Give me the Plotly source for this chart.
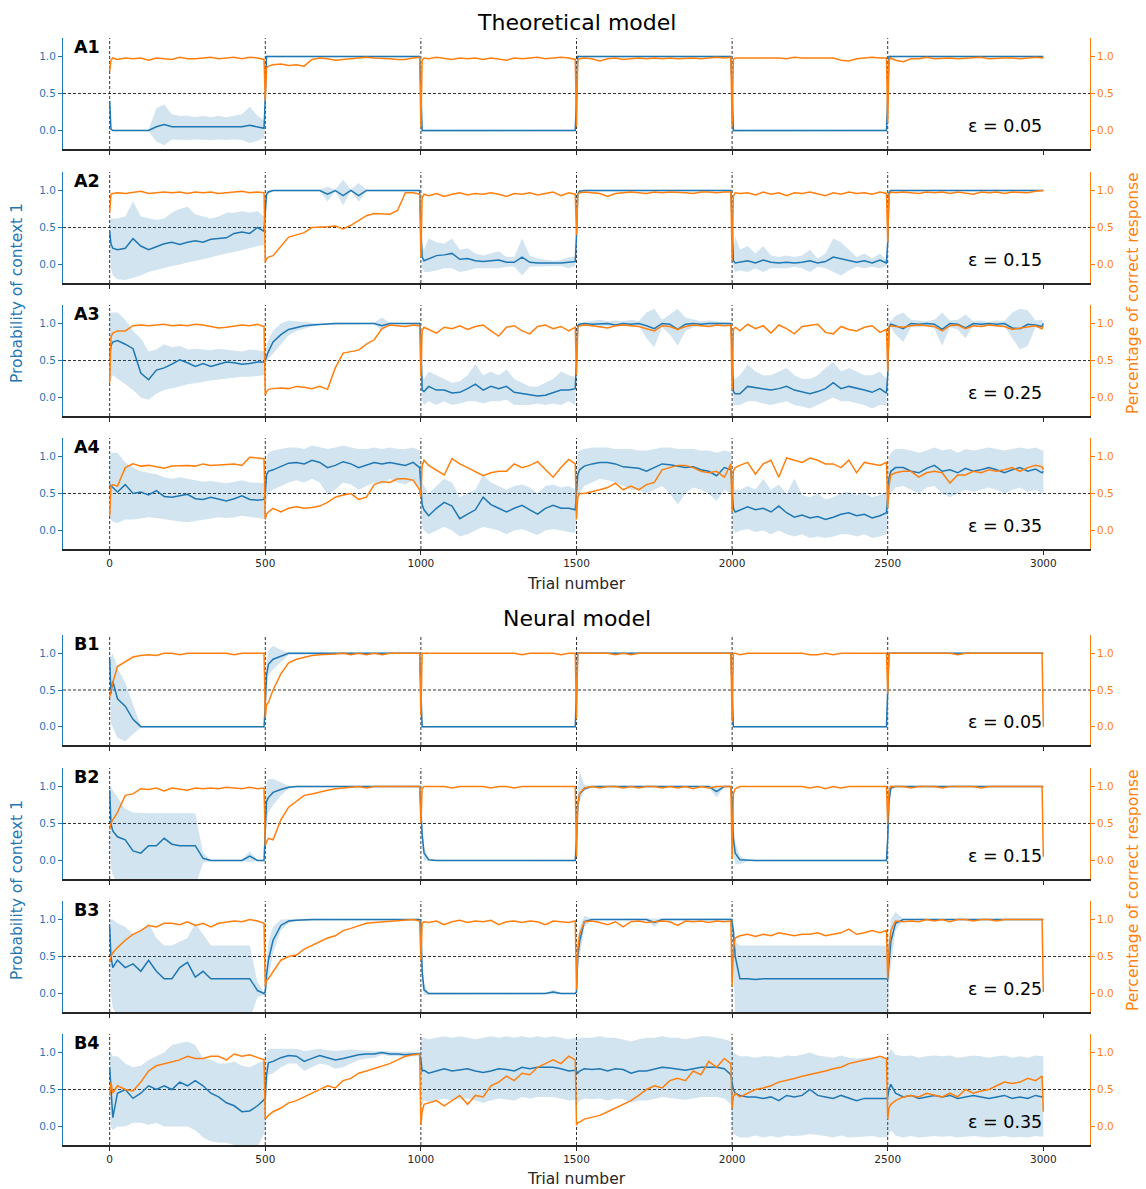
import plotly.graph_objects as go

# ---------------- grid of trial numbers ----------------
BLOCK_STARTS = [0, 500, 1000, 1500, 2000, 2500]
OFFSETS = [0, 4, 10, 25, 50, 75, 100, 125, 150, 175, 200, 225, 250, 275,
           300, 325, 350, 375, 400, 425, 450, 475, 496]
TRIALS = [s + o for s in BLOCK_STARTS for o in OFFSETS] + [3000]
SWITCHES = [0, 500, 1000, 1500, 2000, 2500]
XTICKS = [0, 500, 1000, 1500, 2000, 2500, 3000]
YTICKS = [0.0, 0.5, 1.0]
YTICK_LABELS = ["0.0", "0.5", "1.0"]
PANEL_NAMES = ["A1", "A2", "A3", "A4", "B1", "B2", "B3", "B4"]
EPSILONS = ["0.05", "0.15", "0.25", "0.35", "0.05", "0.15", "0.25", "0.35"]

# ---------------- Theoretical model ----------------
A1_P = [
 .40,.02,0,0,0,0,0,0,.05,.08,.05,.05,.05,.05,.05,.05,.05,.05,.05,.05,.07,.05,.03,
 .45,1,1,1,1,1,1,1,1,1,1,1,1,1,1,1,1,1,1,1,1,1,1,
 .55,0,0,0,0,0,0,0,0,0,0,0,0,0,0,0,0,0,0,0,0,0,0,
 .45,1,1,1,1,1,1,1,1,1,1,1,1,1,1,1,1,1,1,1,1,1,1,
 .55,0,0,0,0,0,0,0,0,0,0,0,0,0,0,0,0,0,0,0,0,0,0,
 .45,1,1,1,1,1,1,1,1,1,1,1,1,1,1,1,1,1,1,1,1,1,1,
 1]
A1_LO = [
 .39,0,-.01,-.01,-.01,-.01,-.01,-.01,-.15,-.2,-.12,-.12,-.13,-.12,-.12,-.13,-.12,-.13,-.12,-.13,-.17,-.14,-.1,
 .4,.97,.99,.99,.99,.99,.99,.99,.99,.99,.99,.99,.99,.99,.99,.99,.99,.99,.99,.99,.99,.99,.99,
 .5,-.02,-.01,-.01,-.01,-.01,-.01,-.01,-.01,-.01,-.01,-.01,-.01,-.01,-.01,-.01,-.01,-.01,-.01,-.01,-.01,-.01,-.01,
 .4,.97,.99,.99,.99,.99,.99,.99,.99,.99,.99,.99,.99,.99,.99,.99,.99,.99,.99,.99,.99,.99,.99,
 .5,-.02,-.01,-.01,-.01,-.01,-.01,-.01,-.01,-.01,-.01,-.01,-.01,-.01,-.01,-.01,-.01,-.01,-.01,-.01,-.01,-.01,-.01,
 .4,.97,.99,.99,.99,.99,.99,.99,.99,.99,.99,.99,.99,.99,.99,.99,.99,.99,.99,.99,.99,.99,.99,
 .99]
A1_HI = [
 .41,.04,.01,.01,.01,.01,.01,.01,.3,.35,.22,.2,.2,.18,.2,.18,.2,.18,.2,.22,.32,.2,.14,
 .5,1.02,1.01,1.01,1.01,1.01,1.01,1.01,1.01,1.01,1.01,1.01,1.01,1.01,1.01,1.01,1.01,1.01,1.01,1.01,1.01,1.01,1.01,
 .7,.03,.01,.01,.01,.01,.01,.01,.01,.01,.01,.01,.01,.01,.01,.01,.01,.01,.01,.01,.01,.01,.01,
 .5,1.02,1.01,1.01,1.01,1.01,1.01,1.01,1.01,1.01,1.01,1.01,1.01,1.01,1.01,1.01,1.01,1.01,1.01,1.01,1.01,1.01,1.01,
 .7,.03,.01,.01,.01,.01,.01,.01,.01,.01,.01,.01,.01,.01,.01,.01,.01,.01,.01,.01,.01,.01,.01,
 .5,1.02,1.01,1.01,1.01,1.01,1.01,1.01,1.01,1.01,1.01,1.01,1.01,1.01,1.01,1.01,1.01,1.01,1.01,1.01,1.01,1.01,1.01,
 1.01]
A1_C = [
 .8,.95,.98,.96,.98,.97,.98,.95,.98,.97,.96,.99,.97,.97,.98,.99,.97,.98,.99,.97,.99,.98,.96,
 .4,.85,.87,.89,.9,.88,.89,.87,.96,.98,.97,.95,.96,.97,.98,.99,.98,.98,.97,.96,.96,.98,.99,
 .05,.95,.98,.97,.99,.97,.96,.98,.97,.98,.96,.98,.97,.95,.98,.97,.98,.99,.97,.98,.99,.98,.96,
 .05,.95,.97,.98,.97,.94,.97,.98,.96,.97,.98,.97,.98,.97,.98,.97,.98,.98,.97,.98,.99,.98,.99,
 .05,.96,.98,.98,.99,.98,.99,.98,.98,.97,.99,.98,.98,.99,.98,.98,.95,.94,.97,.98,.99,.98,.98,
 .1,.95,.98,.95,.93,.97,.97,.99,.97,.98,.98,.97,.98,.98,.99,.97,.98,.98,.98,.97,.98,.99,.98,
 .99]

A2_P = [
 .45,.28,.22,.2,.22,.35,.25,.2,.24,.28,.3,.27,.3,.32,.3,.34,.35,.36,.42,.44,.42,.5,.45,
 .7,.95,.98,1,1,1,1,1,1,1,.95,1,.93,1,.93,1,1,1,1,1,1,1,1,
 .5,.1,.05,.08,.12,.13,.15,.07,.08,.05,.04,.05,.06,.03,.03,.1,.03,.02,.02,.01,.02,.03,.04,
 .4,.95,.99,1,1,1,1,1,1,1,1,1,1,1,1,1,1,1,1,1,1,1,1,
 .6,.05,.02,.03,.05,.02,.06,.03,.02,.03,.02,.03,.05,.02,.04,.1,.08,.06,.03,.05,.02,.06,.02,
 .3,.97,1,1,1,1,1,1,1,1,1,1,1,1,1,1,1,1,1,1,1,1,1,
 1]
A2_LO = [
 .3,-.05,-.15,-.2,-.21,-.18,-.15,-.1,-.08,-.05,-.02,0,.02,.05,.07,.1,.12,.15,.17,.2,.22,.25,.26,
 .6,.9,.96,.99,.99,.99,.99,.99,.99,.99,.85,.99,.8,.99,.85,.99,.99,.99,.99,.99,.99,.99,.99,
 .4,-.05,-.1,-.1,-.08,-.05,-.05,-.1,-.08,-.05,-.05,-.05,-.05,-.03,-.03,-.15,-.03,-.02,-.02,-.02,-.02,-.05,-.02,
 .3,.9,.99,.99,.99,.99,.99,.99,.99,.99,.99,.99,.99,.99,.99,.99,.99,.99,.99,.99,.99,.99,.99,
 .5,-.05,-.1,-.08,-.1,-.05,-.1,-.05,-.05,-.05,-.03,-.05,-.1,-.03,-.05,-.1,-.15,-.08,-.03,-.05,-.03,-.05,-.02,
 .2,.93,.99,.99,.99,.99,.99,.99,.99,.99,.99,.99,.99,.99,.99,.99,.99,.99,.99,.99,.99,.99,.99,
 .99]
A2_HI = [
 .6,.62,.62,.62,.65,.85,.65,.62,.6,.62,.7,.75,.78,.68,.65,.62,.65,.7,.7,.72,.7,.72,.65,
 .8,1,1.01,1.01,1.01,1.01,1.01,1.01,1.01,1.01,1.05,1.01,1.15,1.01,1.1,1.01,1.01,1.01,1.01,1.01,1.01,1.01,1.01,
 .6,.25,.2,.35,.3,.28,.35,.2,.22,.15,.12,.15,.18,.1,.1,.35,.12,.08,.06,.05,.06,.1,.1,
 .5,1,1.01,1.01,1.01,1.01,1.01,1.01,1.01,1.01,1.01,1.01,1.01,1.01,1.01,1.01,1.01,1.01,1.01,1.01,1.01,1.01,1.01,
 .7,.2,.38,.2,.25,.15,.25,.12,.1,.12,.1,.12,.2,.08,.15,.35,.3,.2,.1,.15,.08,.15,.06,
 .4,1.01,1.01,1.01,1.01,1.01,1.01,1.01,1.01,1.01,1.01,1.01,1.01,1.01,1.01,1.01,1.01,1.01,1.01,1.01,1.01,1.01,1.01,
 1.01]
A2_C = [
 .7,.95,.96,.97,.96,.97,.99,.96,.97,.98,.97,.98,.96,.98,.97,.98,.96,.97,.98,.99,.97,.98,.97,
 .03,.08,.1,.12,.25,.37,.4,.43,.5,.5,.51,.52,.48,.53,.6,.66,.69,.69,.68,.73,.97,.97,.95,
 .1,.9,.95,.93,.96,.92,.95,.97,.94,.96,.95,.97,.95,.92,.96,.95,.97,.94,.96,.98,.93,.97,.95,
 .4,.95,.97,.98,.97,.96,.92,.96,.97,.98,.97,.96,.98,.97,.98,.98,.97,.96,.98,.98,.97,.98,.98,
 .05,.92,.97,.96,.97,.94,.98,.95,.97,.93,.97,.96,.98,.95,.93,.97,.95,.98,.96,.97,.95,.98,.96,
 .3,.95,.98,.97,.98,.97,.96,.98,.97,.98,.96,.98,.97,.95,.98,.97,.98,.96,.98,.98,.97,.99,.99,
 1]

A3_P = [
 .55,.7,.75,.77,.72,.66,.33,.24,.37,.4,.45,.51,.47,.42,.46,.42,.45,.48,.47,.45,.46,.48,.48,
 .5,.55,.62,.75,.85,.92,.95,.97,.98,.99,1,1,1,1,1,1,1,.97,1,1,1,1,1,
 .8,.1,.08,.15,.1,.1,.06,.07,.12,.18,.1,.15,.12,.15,.07,.05,.03,.02,.03,.07,.1,.1,.12,
 .5,.97,.99,1,.99,.99,1,.98,1,.99,1,.97,.93,1,.99,.92,.99,1,.99,1,1,1,1,
 .7,.08,.05,.05,.15,.13,.12,.1,.12,.15,.1,.08,.05,.08,.12,.2,.12,.15,.13,.1,.07,.12,.06,
 .3,.95,.99,.97,.93,1,.99,1,.99,.92,1,.99,.94,1,.99,1,.99,1,.94,.93,.99,.98,.96,
 1]
A3_LO = [
 .2,.25,.3,.25,.18,.1,0,-.03,.05,.1,.13,.15,.18,.2,.21,.23,.24,.25,.27,.28,.28,.29,.3,
 .45,.48,.52,.6,.72,.84,.9,.93,.96,.98,.99,.99,.99,.99,.99,.99,.99,.9,.99,.99,.99,.99,.99,
 .6,-.05,-.1,-.05,-.1,-.05,-.1,-.08,-.05,-.05,-.08,-.05,-.05,-.03,-.1,-.1,-.1,-.08,-.1,-.08,-.1,-.05,-.1,
 .4,.9,.97,.98,.96,.95,.97,.95,.97,.96,.97,.8,.68,.95,.85,.7,.9,.95,.97,.95,.97,.97,.98,
 .5,-.1,-.1,-.1,-.05,-.05,-.08,-.1,-.08,-.05,-.1,-.12,-.15,-.1,-.05,0,-.05,-.05,-.08,-.1,-.15,-.1,-.1,
 .2,.85,.95,.85,.75,.95,.95,.97,.93,.7,.95,.92,.8,.97,.95,.97,.95,.97,.8,.65,.7,.95,.92,
 .98]
A3_HI = [
 1.1,1.15,1.15,1.15,1.05,.9,.8,.62,.65,.72,.68,.7,.65,.66,.65,.64,.66,.65,.64,.62,.65,.64,.62,
 .6,.7,.78,.9,1,1.04,1.03,1.02,1.01,1,1.01,1.01,1.01,1.01,1.01,1.01,1.01,1.08,1.01,1.01,1.01,1.01,1.01,
 .9,.3,.25,.35,.3,.25,.2,.22,.3,.45,.3,.35,.3,.38,.25,.2,.15,.15,.2,.25,.35,.3,.28,
 .6,1.02,1.01,1.02,1.03,1.05,1.03,1.04,1.03,1.05,1.03,1.15,1.2,1.05,1.12,1.2,1.08,1.05,1.03,1.04,1.03,1.02,1.01,
 .8,.3,.25,.3,.45,.35,.3,.3,.35,.4,.3,.25,.25,.3,.4,.48,.35,.4,.35,.3,.3,.35,.25,
 .5,1.05,1.03,1.1,1.15,1.05,1.04,1.03,1.05,1.15,1.04,1.05,1.12,1.03,1.04,1.02,1.04,1.03,1.15,1.2,1.18,1.04,1.05,
 1.01]
A3_C = [
 .2,.82,.87,.9,.9,.97,.98,.97,.98,.99,.97,.98,.97,.99,.98,.96,.94,.95,.96,.98,.97,.99,.96,
 .03,.08,.11,.12,.13,.12,.15,.14,.12,.15,.11,.4,.6,.62,.64,.72,.78,.93,.98,.97,.96,.98,.97,
 .28,.9,.95,.92,.87,.95,.93,.97,.92,.96,.98,.9,.83,.95,.97,.9,.86,.96,.98,.93,.96,.9,.95,
 .3,.95,.97,.98,.97,.96,.94,.97,.98,.97,.96,.93,.9,.97,.96,.92,.96,.98,.97,.96,.98,.97,.98,
 .1,.92,.95,.9,.99,.93,.97,.87,.98,.93,.86,.96,.98,.99,.88,.86,.96,.92,.9,.95,.97,.88,.92,
 .35,.95,.97,.96,.95,.97,.98,.97,.96,.9,.97,.98,.93,.97,.96,.98,.97,.96,.92,.94,.95,.97,.93,
 .97]

A4_P = [
 .62,.6,.58,.52,.62,.5,.52,.48,.54,.46,.45,.47,.49,.43,.42,.45,.42,.4,.43,.47,.42,.41,.42,
 .5,.75,.8,.82,.86,.91,.92,.9,.95,.92,.85,.88,.93,.9,.85,.88,.92,.9,.92,.9,.88,.92,.85,
 .6,.35,.28,.2,.3,.38,.33,.16,.22,.28,.45,.35,.3,.25,.3,.34,.28,.22,.3,.34,.3,.3,.28,
 .5,.75,.82,.87,.9,.92,.92,.9,.86,.85,.84,.8,.85,.9,.89,.87,.85,.86,.82,.8,.74,.85,.82,
 .55,.3,.25,.28,.32,.28,.3,.25,.33,.24,.18,.21,.17,.19,.15,.18,.22,.24,.2,.22,.17,.2,.24,
 .45,.7,.8,.85,.85,.8,.78,.84,.88,.8,.82,.78,.84,.8,.82,.85,.82,.78,.82,.85,.8,.83,.78,
 .8]
A4_LO = [
 .2,.15,.12,.1,.15,.15,.16,.18,.17,.15,.14,.12,.11,.13,.14,.16,.18,.17,.18,.2,.18,.17,.16,
 .2,.4,.5,.55,.6,.65,.68,.65,.7,.65,.48,.55,.65,.62,.55,.6,.65,.62,.7,.65,.62,.68,.58,
 .3,.05,0,-.05,0,.05,0,-.08,-.05,0,.05,.02,0,-.05,0,.02,-.02,-.06,0,.02,0,-.02,-.03,
 .2,.4,.5,.6,.65,.7,.68,.65,.6,.55,.55,.5,.55,.6,.5,.35,.5,.58,.55,.5,.4,.55,.5,
 .3,0,-.03,0,.02,-.02,0,-.05,0,-.05,-.08,-.05,-.1,-.08,-.1,-.08,-.05,-.05,-.08,-.05,-.1,-.08,-.05,
 .2,.4,.5,.58,.6,.55,.5,.58,.6,.5,.45,.5,.55,.52,.55,.58,.55,.5,.55,.58,.52,.55,.5,
 .52]
A4_HI = [
 1,1.05,1.05,1.05,.92,.85,.8,.78,.76,.72,.7,.72,.7,.68,.66,.67,.65,.64,.66,.68,.65,.64,.64,
 .8,1,1.05,1.08,1.1,1.12,1.12,1.1,1.15,1.12,1.1,1.12,1.15,1.12,1.1,1.1,1.12,1.1,1.12,1.1,1.1,1.12,1.08,
 .9,.65,.6,.5,.6,.7,.65,.45,.5,.55,.75,.65,.6,.55,.6,.62,.58,.5,.6,.62,.58,.6,.55,
 .8,1.05,1.08,1.1,1.12,1.12,1.12,1.1,1.1,1.1,1.08,1.08,1.1,1.12,1.12,1.1,1.1,1.1,1.08,1.08,1.05,1.08,1.06,
 .85,.6,.55,.55,.6,.55,.7,.55,.62,.5,.7,.48,.45,.5,.42,.45,.5,.52,.48,.5,.45,.48,.52,
 .7,1,1.05,1.1,1.1,1.08,1.05,1.08,1.12,1.08,1.1,1.05,1.1,1.08,1.1,1.12,1.1,1.08,1.1,1.12,1.1,1.12,1.08,
 1.1]
A4_C = [
 .2,.6,.62,.6,.85,.9,.87,.88,.86,.84,.87,.88,.88,.87,.9,.88,.89,.9,.9,.88,.99,.98,.97,
 .15,.22,.25,.3,.25,.3,.32,.3,.31,.33,.38,.45,.48,.5,.42,.45,.62,.66,.65,.7,.7,.68,.55,
 .45,.88,.95,.88,.82,.75,.97,.9,.85,.8,.74,.78,.8,.8,.9,.85,.88,.93,.82,.72,.85,.96,.9,
 .15,.45,.5,.5,.52,.55,.58,.64,.55,.6,.55,.62,.65,.82,.85,.88,.88,.85,.8,.78,.8,.72,.9,
 .25,.8,.85,.88,.92,.76,.9,.95,.72,.98,.95,.92,.98,.95,.9,.9,.85,.95,.78,.92,.9,.88,.92,
 .3,.6,.75,.78,.8,.8,.72,.78,.8,.78,.64,.75,.75,.8,.78,.82,.8,.82,.85,.8,.85,.88,.86,
 .82]

# ---------------- Neural model ----------------
B1_P = [
 .92,.45,.62,.38,.28,.1,0,0,0,0,0,0,0,0,0,0,0,0,0,0,0,0,0,
 .3,.7,.85,.92,.96,1,1,1,1,1,1,1,1,1,1,1,1,1,1,1,1,1,1,
 .5,0,0,0,0,0,0,0,0,0,0,0,0,0,0,0,0,0,0,0,0,0,0,
 .5,1,1,1,1,1,1,1,1,1,1,1,1,1,1,1,1,1,1,1,1,1,1,
 .5,0,0,0,0,0,0,0,0,0,0,0,0,0,0,0,0,0,0,0,0,0,0,
 .5,1,1,1,1,1,1,1,1,1,1,1,1,1,1,1,1,1,1,1,1,1,1,
 1]
B1_LO = [
 .7,.05,0,-.15,-.2,-.1,-.01,-.01,-.01,-.01,-.01,-.01,-.01,-.01,-.01,-.01,-.01,-.01,-.01,-.01,-.01,-.01,-.01,
 .1,.5,.7,.78,.88,.98,.99,.99,.99,.99,.99,.99,.99,.99,.99,.99,.99,.99,.99,.99,.99,.99,.99,
 .4,-.01,-.01,-.01,-.01,-.01,-.01,-.01,-.01,-.01,-.01,-.01,-.01,-.01,-.01,-.01,-.01,-.01,-.01,-.01,-.01,-.01,-.01,
 .4,.99,.99,.99,.99,.99,.99,.99,.99,.99,.99,.99,.99,.99,.99,.99,.99,.99,.99,.99,.99,.99,.99,
 .4,-.01,-.01,-.01,-.01,-.01,-.01,-.01,-.01,-.01,-.01,-.01,-.01,-.01,-.01,-.01,-.01,-.01,-.01,-.01,-.01,-.01,-.01,
 .4,.99,.99,.99,.99,.99,.99,.99,.99,.99,.99,.99,.99,.99,.99,.99,.99,.99,.99,.99,.99,.99,.99,
 .99]
B1_HI = [
 1,.95,1,.8,.6,.3,.01,.01,.01,.01,.01,.01,.01,.01,.01,.01,.01,.01,.01,.01,.01,.01,.01,
 .5,.9,1.05,1.1,1.05,1.01,1.01,1.01,1.01,1.01,1.01,1.01,1.01,1.01,1.01,1.01,1.01,1.01,1.01,1.01,1.01,1.01,1.01,
 .6,.01,.01,.01,.01,.01,.01,.01,.01,.01,.01,.01,.01,.01,.01,.01,.01,.01,.01,.01,.01,.01,.01,
 .6,1.01,1.01,1.01,1.01,1.01,1.01,1.01,1.01,1.01,1.01,1.01,1.01,1.01,1.01,1.01,1.01,1.01,1.01,1.01,1.01,1.01,1.01,
 .6,.01,.01,.01,.01,.01,.01,.01,.01,.01,.01,.01,.01,.01,.01,.01,.01,.01,.01,.01,.01,.01,.01,
 .6,1.01,1.01,1.01,1.01,1.01,1.01,1.01,1.01,1.01,1.01,1.01,1.01,1.01,1.01,1.01,1.01,1.01,1.01,1.01,1.01,1.01,1.01,
 1.01]
B1_C = [
 .4,.48,.6,.82,.88,.95,.97,.98,.97,1,1,.98,1,1,1,1,1,1,.98,1,1,1,1,
 .12,.3,.33,.5,.72,.87,.92,.95,.97,.98,.98,.99,1,.98,1,.98,1,.98,1,1,1,1,1,
 .15,1,1,1,1,1,1,1,1,1,1,1,1,1,1,.98,1,1,1,1,.98,1,1,
 .1,1,1,1,1,1,1,.98,1,.98,1,1,1,1,1,1,1,1,1,1,1,1,1,
 .07,1,1,.98,1,1,1,1,1,1,1,1,.98,.98,1,.98,1,1,1,1,1,1,1,
 .45,1,1,1,1,1,1,1,1,1,1,.98,1,1,1,1,1,1,1,1,1,1,1,
 0]

B2_P = [
 .95,.5,.4,.32,.28,.13,.1,.2,.2,.3,.22,.2,.2,.2,.03,0,0,0,0,0,.06,0,0,
 .5,.8,.85,.92,.96,.99,1,1,1,1,1,1,1,1,1,1,1,1,1,1,1,1,1,
 .7,.35,.1,.01,0,0,0,0,0,0,0,0,0,0,0,0,0,0,0,0,0,0,0,
 .3,.75,.9,.97,1,1,1,1,1,1,1,1,1,1,1,1,1,1,1,1,.93,1,1,
 .8,.3,.1,.01,0,0,0,0,0,0,0,0,0,0,0,0,0,0,0,0,0,0,0,
 .3,.8,.98,1,1,1,1,1,1,1,1,1,1,1,1,1,1,1,1,1,1,1,1,
 1]
B2_LO = [
 .6,-.1,-.2,-.3,-.35,-.35,-.35,-.35,-.35,-.35,-.35,-.35,-.35,-.35,-.03,-.01,-.01,-.01,-.01,-.01,-.02,-.01,-.01,
 .2,.55,.65,.75,.88,.97,.99,.99,.99,.99,.99,.99,.99,.99,.99,.99,.99,.99,.99,.99,.99,.99,.99,
 .5,.2,0,-.01,-.01,-.01,-.01,-.01,-.01,-.01,-.01,-.01,-.01,-.01,-.01,-.01,-.01,-.01,-.01,-.01,-.01,-.01,-.01,
 .1,.6,.8,.94,.99,.99,.99,.99,.99,.99,.99,.99,.99,.99,.99,.99,.99,.99,.99,.99,.85,.99,.99,
 .6,.1,-.05,-.05,-.01,-.01,-.01,-.01,-.01,-.01,-.01,-.01,-.01,-.01,-.01,-.01,-.01,-.01,-.01,-.01,-.01,-.01,-.01,
 .1,.6,.95,.99,.99,.99,.99,.99,.99,.99,.99,.99,.99,.99,.99,.99,.99,.99,.99,.99,.99,.99,.99,
 .99]
B2_HI = [
 1,1,.95,.85,.7,.65,.64,.64,.64,.64,.64,.64,.64,.64,.1,.01,.01,.01,.01,.01,.12,.01,.01,
 .8,1.05,1.1,1.1,1.05,1.01,1.01,1.01,1.01,1.01,1.01,1.01,1.01,1.01,1.01,1.01,1.01,1.01,1.01,1.01,1.01,1.01,1.01,
 .9,.5,.2,.02,.01,.01,.01,.01,.01,.01,.01,.01,.01,.01,.01,.01,.01,.01,.01,.01,.01,.01,.01,
 .5,.95,1.2,1.02,1.01,1.01,1.01,1.01,1.01,1.01,1.01,1.01,1.01,1.01,1.01,1.01,1.01,1.01,1.01,1.01,1.02,1.01,1.01,
 1,.5,.25,.06,.01,.01,.01,.01,.01,.01,.01,.01,.01,.01,.01,.01,.01,.01,.01,.01,.01,.01,.01,
 .5,1,1.02,1.01,1.01,1.01,1.01,1.01,1.01,1.01,1.01,1.01,1.01,1.01,1.01,1.01,1.01,1.01,1.01,1.01,1.01,1.01,1.01,
 1.01]
B2_C = [
 .42,.5,.55,.65,.88,.9,.97,.96,.98,.94,.98,.96,.95,.98,.97,.98,.97,.99,.98,.97,.99,.97,.98,
 .2,.25,.3,.28,.55,.72,.8,.88,.9,.93,.95,.97,.98,.99,1,.98,1,1,1,1,1,1,1,
 .5,.97,1,1,1,1,.98,1,1,1,1,.98,1,1,.98,1,1,1,1,1,1,1,1,
 .05,.75,.9,.98,1,.98,1,1,.98,1,.98,1,1,.98,1,.98,1,.97,1,.98,1,1,1,
 .02,.9,.97,1,1,1,1,1,1,1,1,1,.98,1,.97,1,.98,1,1,1,1,1,1,
 .5,.95,1,1,1,.98,1,1,1,.98,1,1,1,1,.98,1,1,1,1,1,1,1,1,
 .05]

B3_P = [
 .9,.5,.35,.45,.35,.4,.3,.45,.3,.2,.2,.35,.42,.22,.3,.2,.2,.2,.2,.2,.2,.04,0,
 .02,.25,.45,.72,.92,.98,.99,1,1,1,1,1,1,1,1,1,1,1,1,1,1,1,1,
 .95,.3,.05,0,0,0,0,0,0,0,0,0,0,0,0,0,0,0,0,.02,0,0,0,
 .02,.5,.7,.97,1,1,1,1,1,1,1,1,.96,1,1,1,1,1,1,1,1,1,1,
 .95,.85,.5,.2,.2,.19,.2,.2,.19,.2,.2,.2,.19,.2,.2,.2,.19,.2,.2,.2,.19,.2,.2,
 .2,.4,.7,.95,1,1,1,1,1,1,1,1,1,1,1,1,1,1,1,1,1,1,1,
 1]
B3_LO = [
 .5,0,-.2,-.3,-.35,-.35,-.35,-.35,-.35,-.35,-.35,-.35,-.35,-.35,-.35,-.35,-.35,-.35,-.35,-.35,-.35,-.05,-.02,
 -.02,.05,.2,.55,.85,.95,.98,.99,.99,.99,.99,.99,.99,.99,.99,.99,.99,.99,.99,.99,.99,.99,.99,
 .8,.1,-.02,-.01,-.01,-.01,-.01,-.01,-.01,-.01,-.01,-.01,-.01,-.01,-.01,-.01,-.01,-.01,-.01,-.01,-.01,-.01,-.01,
 -.02,.3,.5,.9,.99,.99,.99,.99,.99,.99,.99,.99,.9,.99,.99,.99,.99,.99,.99,.99,.99,.99,.99,
 .85,.6,-.3,-.35,-.35,-.35,-.35,-.35,-.35,-.35,-.35,-.35,-.35,-.35,-.35,-.35,-.35,-.35,-.35,-.35,-.35,-.35,-.35,
 -.3,.15,.4,.85,.99,.99,.99,.99,.99,.99,.99,.99,.99,.99,.99,.99,.99,.99,.99,.99,.99,.99,.99,
 .99]
B3_HI = [
 1,1,1,.95,.9,.8,.85,.95,.75,.65,.65,.7,.75,.95,.8,.65,.65,.65,.65,.65,.65,.15,.02,
 .1,.45,.7,.9,1,1.01,1.01,1.01,1.01,1.01,1.01,1.01,1.01,1.01,1.01,1.01,1.01,1.01,1.01,1.01,1.01,1.01,1.01,
 1,.5,.15,.01,.01,.01,.01,.01,.01,.01,.01,.01,.01,.01,.01,.01,.01,.01,.01,.05,.01,.01,.01,
 .1,.75,.9,1.05,1.01,1.01,1.01,1.01,1.01,1.01,1.01,1.01,1.02,1.01,1.01,1.01,1.01,1.01,1.01,1.01,1.01,1.01,1.01,
 1.02,1,.7,.65,.65,.65,.65,.65,.65,.65,.65,.65,.65,.65,.65,.65,.65,.65,.65,.65,.65,.65,.65,
 .65,.7,1,1.1,1.01,1.01,1.01,1.01,1.01,1.01,1.01,1.01,1.01,1.01,1.01,1.01,1.01,1.01,1.01,1.01,1.01,1.01,1.01,
 1.01]
B3_C = [
 .42,.5,.55,.62,.72,.8,.85,.92,.9,.95,.95,.93,.97,.92,.95,.9,.95,.97,.98,.97,1,.98,.95,
 .1,.18,.2,.3,.45,.5,.52,.6,.65,.7,.75,.78,.85,.88,.92,.95,.96,.97,.98,.98,1,1,.98,
 .45,.95,.97,.96,.98,.93,.97,.99,.96,.98,.97,.99,.93,.97,.98,.96,.98,.97,.93,.98,.97,.96,.98,
 .05,.6,.8,.97,.98,.96,.93,.97,.9,.97,.98,.96,.97,.98,.97,.92,.98,.97,.98,.96,.98,.97,.98,
 .1,.6,.75,.78,.8,.77,.8,.78,.82,.8,.78,.8,.8,.82,.78,.8,.82,.87,.8,.82,.85,.82,.85,
 .2,.6,.85,.98,.97,.98,.97,1,.98,1,.97,1,1,.98,1,1,.98,1,1,1,1,1,1,
 .02]

B4_P = [
 .8,.5,.12,.45,.5,.38,.45,.55,.5,.55,.5,.6,.55,.62,.55,.45,.4,.32,.28,.2,.21,.28,.36,
 .4,.7,.86,.88,.93,.96,.95,.88,.92,.96,.93,.9,.92,.95,.97,.98,.98,1,.98,.98,.97,.98,.98,
 .9,.75,.76,.72,.75,.78,.75,.77,.78,.75,.73,.75,.78,.77,.75,.8,.78,.8,.8,.8,.78,.75,.76,
 .75,.72,.75,.78,.77,.78,.75,.78,.77,.72,.75,.75,.77,.8,.79,.77,.76,.78,.8,.8,.8,.78,.7,
 .6,.5,.45,.42,.4,.4,.38,.4,.35,.42,.4,.42,.5,.42,.4,.38,.42,.38,.35,.38,.38,.37,.38,
 .4,.5,.57,.45,.4,.42,.38,.4,.42,.4,.42,.38,.4,.42,.4,.38,.4,.42,.38,.4,.38,.42,.4,
 .4]
B4_LO = [
 .5,0,-.05,0,0,.05,.05,.02,.05,0,0,0,0,-.05,-.15,-.2,-.22,-.22,-.25,-.28,-.25,-.27,-.1,
 0,.5,.7,.72,.8,.85,.85,.75,.8,.85,.83,.78,.8,.85,.9,.92,.93,.97,.95,.95,.94,.95,.95,
 .6,.3,.35,.33,.35,.38,.35,.37,.38,.35,.32,.35,.38,.37,.35,.4,.38,.4,.4,.4,.38,.35,.36,
 .3,.32,.35,.38,.37,.38,.35,.38,.37,.32,.35,.35,.37,.4,.39,.37,.36,.38,.4,.4,.4,.38,.3,
 0,-.1,-.12,-.15,-.15,-.12,-.15,-.13,-.15,-.12,-.13,-.12,-.1,-.12,-.13,-.15,-.12,-.15,-.15,-.14,-.13,-.15,-.14,
 -.15,-.1,-.05,-.12,-.15,-.13,-.15,-.14,-.13,-.14,-.13,-.15,-.14,-.13,-.14,-.15,-.14,-.13,-.15,-.14,-.15,-.13,-.14,
 -.14]
B4_HI = [
 1,1,.95,.95,.85,.8,.82,.9,.95,1,1.1,1.12,1.15,1.1,.92,.9,.85,.85,.88,.82,.8,.85,.9,
 .9,1,1.05,1.05,1.05,1.05,1.05,1.02,1.03,1.05,1.03,1.02,1.03,1.04,1.03,1.02,1.02,1.02,1.01,1.01,1.01,1.01,1.01,
 1.1,1.2,1.2,1.18,1.2,1.22,1.2,1.22,1.2,1.18,1.2,1.22,1.2,1.22,1.2,1.22,1.2,1.22,1.2,1.22,1.2,1.18,1.2,
 1.2,1.18,1.2,1.2,1.2,1.22,1.2,1.2,1.18,1.15,1.18,1.2,1.2,1.22,1.2,1.2,1.18,1.2,1.22,1.22,1.2,1.18,1.15,
 1.1,1,.98,.95,.95,.93,.95,.95,.93,.96,.95,.97,1,.96,.95,.93,.96,.93,.92,.93,.94,.93,.93,
 .95,1,1.05,.97,.95,.96,.93,.95,.96,.95,.96,.93,.95,.96,.95,.93,.95,.96,.93,.95,.93,.96,.95,
 .95]
B4_C = [
 .42,.6,.45,.55,.5,.48,.6,.75,.82,.85,.88,.9,.95,.92,.92,.95,.95,.9,.98,.95,.97,.93,.9,
 .1,.12,.15,.2,.25,.32,.35,.4,.45,.5,.55,.52,.62,.65,.72,.75,.78,.82,.85,.9,.95,.97,.98,
 .02,.2,.3,.32,.35,.28,.35,.42,.3,.42,.4,.55,.6,.68,.62,.72,.7,.8,.85,.9,.85,.95,.9,
 .02,.05,.06,.1,.12,.15,.2,.25,.3,.35,.42,.5,.55,.52,.62,.65,.62,.75,.7,.88,.8,.92,.85,
 .25,.4,.45,.4,.45,.5,.52,.55,.6,.62,.65,.68,.7,.72,.75,.78,.8,.85,.88,.9,.92,.95,.92,
 .1,.25,.3,.35,.4,.42,.4,.45,.42,.4,.45,.4,.5,.45,.48,.5,.55,.6,.58,.6,.65,.62,.68,
 .2]

PANELS = [
    (A1_P, A1_LO, A1_HI, A1_C), (A2_P, A2_LO, A2_HI, A2_C),
    (A3_P, A3_LO, A3_HI, A3_C), (A4_P, A4_LO, A4_HI, A4_C),
    (B1_P, B1_LO, B1_HI, B1_C), (B2_P, B2_LO, B2_HI, B2_C),
    (B3_P, B3_LO, B3_HI, B3_C), (B4_P, B4_LO, B4_HI, B4_C),
]
for k, arrs in enumerate(PANELS):
    for j, a in enumerate(arrs):
        assert len(a) == len(TRIALS), f"panel {PANEL_NAMES[k]} array {j} has {len(a)} != {len(TRIALS)}"

# ---------------- layout geometry (pixels) ----------------
W, H = 1146, 1189
BLUE = "#1f77b4"
ORANGE = "#ff7f0e"
BAND = "rgba(31,119,180,0.2)"
FONT = "DejaVu Sans"
DARK = "#262626"
XDOM = [63 / W, 1090 / W]
TOPS = [38, 172, 305, 438, 635, 768, 901, 1034]
BOTTOMS = [149, 283, 416, 549, 745, 879, 1012, 1145]

def py(v):
    return 1 - v / H

fig = go.Figure()
layout = dict(
    width=W, height=H, margin=dict(l=0, r=0, t=0, b=0),
    paper_bgcolor="white", plot_bgcolor="white",
    font=dict(family=FONT, color=DARK), showlegend=False,
)
shapes = []
annotations = []

for i, (p, lo, hi, c) in enumerate(PANELS, start=1):
    sfx = "" if i == 1 else str(i)
    xr, yl, yr = "x" + sfx, "y" + sfx, "y" + str(i + 8)
    fig.add_trace(go.Scatter(
        x=TRIALS + TRIALS[::-1], y=hi + lo[::-1], xaxis=xr, yaxis=yl,
        fill="toself", fillcolor=BAND, line=dict(width=0), mode="lines",
        hoverinfo="skip"))
    fig.add_trace(go.Scatter(x=TRIALS, y=p, xaxis=xr, yaxis=yl, mode="lines",
                             line=dict(color=BLUE, width=1.5)))
    fig.add_trace(go.Scatter(x=TRIALS, y=c, xaxis=xr, yaxis=yr, mode="lines",
                             line=dict(color=ORANGE, width=1.5)))

    dom = [py(BOTTOMS[i - 1]), py(TOPS[i - 1])]
    layout["xaxis" + sfx] = dict(
        domain=XDOM, anchor=yl, range=[-150, 3150], showgrid=False, zeroline=False,
        showline=True, linecolor=DARK, linewidth=1.6, ticks="outside", ticklen=4,
        tickwidth=1, tickcolor=DARK, tickvals=XTICKS,
        showticklabels=(i in (4, 8)), tickfont=dict(size=10.5, color=DARK))
    layout["yaxis" + sfx] = dict(
        domain=dom, anchor=xr, range=[-0.25, 1.25], showgrid=False, zeroline=False,
        showline=True, linecolor=BLUE, linewidth=1, ticks="outside", ticklen=4,
        tickcolor=BLUE, tickvals=YTICKS, ticktext=YTICK_LABELS,
        tickfont=dict(size=10.5, color=BLUE))
    layout["yaxis" + str(i + 8)] = dict(
        overlaying=yl, side="right", anchor=xr, range=[-0.25, 1.25],
        showgrid=False, zeroline=False, showline=True, linecolor=ORANGE, linewidth=1,
        ticks="outside", ticklen=4, tickcolor=ORANGE, tickvals=YTICKS,
        ticktext=YTICK_LABELS, tickfont=dict(size=10.5, color=ORANGE))

    for s in SWITCHES:
        shapes.append(dict(type="line", xref=xr, yref=yl + " domain", x0=s, x1=s,
                           y0=0, y1=1, layer="below",
                           line=dict(color="black", width=0.8, dash="3px,2px")))
    shapes.append(dict(type="line", xref=xr + " domain", yref=yl, x0=0, x1=1,
                       y0=0.5, y1=0.5, layer="below",
                       line=dict(color="black", width=0.8, dash="3px,2px")))

    annotations.append(dict(text="<b>" + PANEL_NAMES[i - 1] + "</b>", xref="paper",
                            yref="paper", x=72 / W, y=py(TOPS[i - 1] + 9),
                            xanchor="left", yanchor="middle", showarrow=False,
                            font=dict(size=17.5, color="black")))
    annotations.append(dict(text="ε = " + EPSILONS[i - 1], xref="paper", yref="paper",
                            x=1044 / W, y=py(BOTTOMS[i - 1] - 23), xanchor="right",
                            yanchor="middle", showarrow=False,
                            font=dict(size=17.5, color="black")))

for title, yc in (("Theoretical model", 22), ("Neural model", 618)):
    annotations.append(dict(text=title, xref="paper", yref="paper", x=576.5 / W,
                            y=py(yc), xanchor="center", yanchor="middle",
                            showarrow=False, font=dict(size=22, color="black")))
for yc in (584, 1179):
    annotations.append(dict(text="Trial number", xref="paper", yref="paper",
                            x=576.5 / W, y=py(yc), xanchor="center", yanchor="middle",
                            showarrow=False, font=dict(size=15.5, color=DARK)))
for yc in (293, 890):
    annotations.append(dict(text="Probability of context 1", xref="paper", yref="paper",
                            x=17 / W, y=py(yc), xanchor="center", yanchor="middle",
                            textangle=-90, showarrow=False,
                            font=dict(size=15.5, color=BLUE)))
    annotations.append(dict(text="Percentage of correct response", xref="paper",
                            yref="paper", x=1133 / W, y=py(yc), xanchor="center",
                            yanchor="middle", textangle=-90, showarrow=False,
                            font=dict(size=15.5, color=ORANGE)))

layout["shapes"] = shapes
layout["annotations"] = annotations
fig.update_layout(**layout)
fig.write_html("out.html", config={"displayModeBar": False})

# remove the browser's default page margin so the figure sits at (0, 0)
with open("out.html", "r", encoding="utf-8") as fh:
    html = fh.read()
html = html.replace("<head>", "<head><style>html,body{margin:0;padding:0;overflow:hidden;}</style>", 1)
with open("out.html", "w", encoding="utf-8") as fh:
    fh.write(html)
